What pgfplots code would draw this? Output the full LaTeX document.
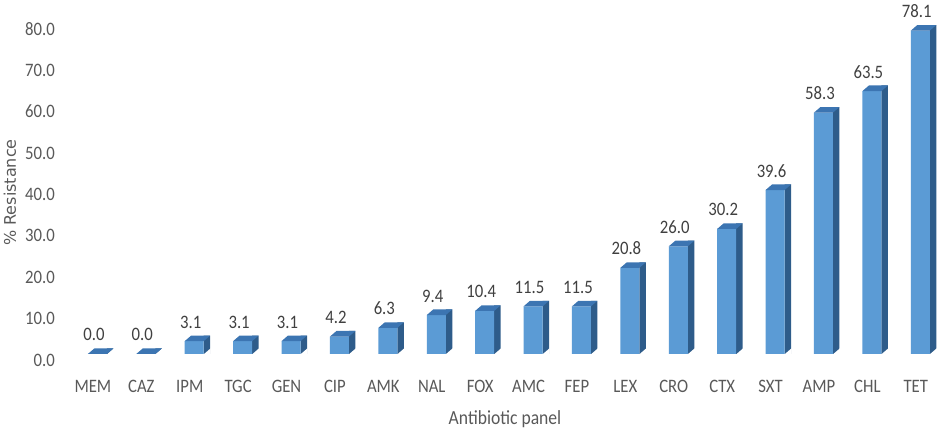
\documentclass[border=0pt]{standalone}
\usepackage{fontspec}
\setmainfont{Carlito}[FakeStretch=0.88]
\newfontfamily\ylabfont{DejaVu Sans}
\usepackage{pgfplots}
\usepackage{pgfplotstable}
\pgfplotsset{compat=1.18}
\definecolor{front}{RGB}{91,155,213}
\definecolor{topc}{RGB}{60,117,178}
\definecolor{side}{RGB}{46,92,138}
\definecolor{tickgray}{RGB}{89,89,89}
\definecolor{labgray}{RGB}{64,64,64}

% top face of a bar, drawn at the top centre of the category
\pgfdeclareplotmark{topface}{%
  \pgfpathmoveto{\pgfpoint{-5bp}{0bp}}%
  \pgfpathlineto{\pgfpoint{14bp}{0bp}}%
  \pgfpathlineto{\pgfpoint{20.5bp}{5.6bp}}%
  \pgfpathlineto{\pgfpoint{1.5bp}{5.6bp}}%
  \pgfpathclose\pgfusepathqfill}
% the foot of the side face, which is not drawn
\pgfdeclareplotmark{sidefoot}{%
  \pgfpathmoveto{\pgfpoint{13.8bp}{-0.5bp}}%
  \pgfpathlineto{\pgfpoint{21bp}{-0.5bp}}%
  \pgfpathlineto{\pgfpoint{21bp}{5.7bp}}%
  \pgfpathclose\pgfusepathqfill}

\pgfplotstableread{
x v
0 0.0
1 0.0
2 3.1
3 3.1
4 3.1
5 4.2
6 6.3
7 9.4
8 10.4
9 11.5
10 11.5
11 20.8
12 26.0
13 30.2
14 39.6
15 58.3
16 63.5
17 78.1
}\datatable

\begin{document}
\begin{tikzpicture}
\useasboundingbox (0,0) rectangle (941bp,432bp);
\begin{axis}[
 at={(60bp,71bp)}, anchor=south west,
 scale only axis, width=880bp, height=346.5bp,
 xmin=-0.68, xmax=17.5, ymin=-1.7, ymax=82,
 axis line style={draw=none},
 major tick length=0pt,
 xtick={0,...,17},
 xticklabels={MEM,CAZ,IPM,TGC,GEN,CIP,AMK,NAL,FOX,AMC,FEP,LEX,CRO,CTX,SXT,AMP,CHL,TET},
 ytick={0,10,...,80},
 yticklabel={\pgfmathprintnumber[fixed,zerofill,precision=1,assume math mode=true]{\tick}},
 yticklabel style={font=\fontsize{19bp}{22bp}\selectfont, text=tickgray, anchor=east, inner sep=0pt, xshift=-5bp, yshift=-6bp},
 xticklabel style={font=\fontsize{19bp}{22bp}\selectfont, text=tickgray, anchor=base, inner sep=0pt, yshift=-31.5bp},
 xlabel={Antibiotic panel},
 xlabel style={at={(axis description cs:0.5057,-0.1847)}, anchor=base, inner sep=0pt, font=\fontsize{20bp}{24bp}\selectfont, text=tickgray},
 ylabel={\% Resistance},
 ylabel style={at={(axis description cs:-0.0568,0.486)}, anchor=center, inner sep=0pt, font=\ylabfont\fontsize{16bp}{19bp}\selectfont, text=tickgray},
 clip=false,
]
% side faces
\addplot[ybar, bar width=6.5bp, bar shift=17.25bp, fill=side, draw=none]
  table[x=x, y expr=\thisrow{v}+1.35] {\datatable};
% foot of the side faces
\addplot[only marks, mark=sidefoot, mark options={fill=white, draw=none}]
  table[x=x, y expr=0] {\datatable};
% front faces
\addplot[ybar, bar width=19bp, bar shift=4.5bp, fill=front, draw=none,
  nodes near coords={\pgfmathprintnumber[fixed,zerofill,precision=1,assume math mode=true]{\pgfplotspointmeta}},
  every node near coord/.append style={font=\fontsize{19bp}{22bp}\selectfont, text=labgray, anchor=base, inner sep=0pt, yshift=13bp, xshift=1bp}]
  table[x=x, y=v] {\datatable};
% top faces
\addplot[only marks, mark=topface, mark options={fill=topc, draw=none}]
  table[x=x, y=v] {\datatable};
\end{axis}
\end{tikzpicture}
\end{document}
